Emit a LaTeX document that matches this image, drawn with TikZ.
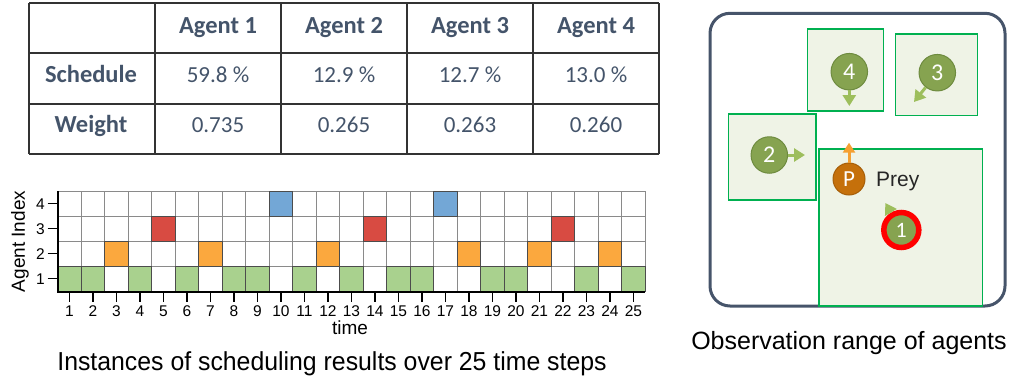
\documentclass[tikz,border=0pt]{standalone}
\usepackage{fontspec}
\setmainfont{Carlito}
\newfontfamily\hel{Liberation Sans}
\newfontfamily\helc[FakeStretch=0.955]{Liberation Sans}
\usetikzlibrary{arrows.meta}
\definecolor{tabtxt}{HTML}{44546A}
\definecolor{cgreen}{HTML}{A9D18E}
\definecolor{corange}{HTML}{FBA83E}
\definecolor{cred}{HTML}{D84B42}
\definecolor{cblue}{HTML}{73A7D6}
\definecolor{gline}{HTML}{8A8A8A}
\definecolor{boxg}{HTML}{00B050}
\definecolor{boxfill}{HTML}{EFF3E6}
\definecolor{agfill}{HTML}{86A350}
\definecolor{agdraw}{HTML}{6E8B3F}
\definecolor{agarrow}{HTML}{9DBE5C}
\definecolor{preyfill}{HTML}{C5700B}
\definecolor{preydraw}{HTML}{A65E08}
\definecolor{preyarrow}{HTML}{F5A032}
\definecolor{frame}{HTML}{46546A}
\tikzset{
  tabline/.style={draw=black!80, line width=1.6pt},
  tabhead/.style={anchor=base, text=tabtxt, font=\fontsize{24.5}{26}\selectfont\bfseries},
  tabcell/.style={anchor=base, text=tabtxt, font=\fontsize{23}{26}\selectfont},
  cellbox/.style={draw=gline, line width=0.9pt},
  axisline/.style={draw=black, line width=2pt},
  tickline/.style={draw=black, line width=1.6pt},
  ticklab/.style={font=\hel\fontsize{15.5}{16}\selectfont, inner sep=0pt},
  axlab/.style={font=\hel\fontsize{19}{20}\selectfont, inner sep=0pt},
  caption/.style={font=\hel\fontsize{20}{22}\selectfont, inner sep=0pt, anchor=base},
  obsbox/.style={draw=boxg, fill=boxfill, line width=1.6pt},
  agent/.style={circle, fill=agfill, draw=agdraw, line width=1pt, minimum size=36.5pt, inner sep=0pt, text=white, font=\fontsize{24}{24}\selectfont},
  garrow/.style={draw=agarrow, line width=3pt, -{Triangle[width=13pt,length=11pt]}},
  parrow/.style={draw=preyarrow, line width=3pt, -{Triangle[width=12pt,length=10pt]}},
}
\begin{document}
\begin{tikzpicture}[x=1pt,y=-1pt]
\useasboundingbox (0,0) rectangle (1022,391);
% ---------------- table ----------------
\foreach \x in {29,155,281,407,533,659} \draw[tabline] (\x,3) -- (\x,154);
\foreach \y in {3,53,104,154} \draw[tabline] (29,\y) -- (659,\y);
\node[tabhead] (h1) at (218,33.3) {Agent 1};
\node[tabhead] (h2) at (344,33.3) {Agent 2};
\node[tabhead] (h3) at (470,33.3) {Agent 3};
\node[tabhead] (h4) at (596,33.3) {Agent 4};
\node[tabhead] (rs) at (91,82.7) {Schedule};
\node[tabhead] (rw) at (91,132.7) {Weight};
\node[tabcell] (s1) at (218,82.7) {59.8 \%};
\node[tabcell] (s2) at (344,82.7) {12.9 \%};
\node[tabcell] (s3) at (470,82.7) {12.7 \%};
\node[tabcell] (s4) at (596,82.7) {13.0 \%};
\node[tabcell] (w1) at (218,132.7) {0.735};
\node[tabcell] (w2) at (344,132.7) {0.265};
\node[tabcell] (w3) at (470,132.7) {0.263};
\node[tabcell] (w4) at (596,132.7) {0.260};
% ---------------- schedule grid ----------------
\foreach \k in {1,...,25}
  \foreach \r in {1,...,4}
    \draw[cellbox] ({57.7+(\k-1)*23.5},{291-\r*25}) rectangle +(23.5,25);
\foreach \k/\r/\c in {1/1/cgreen,2/1/cgreen,4/1/cgreen,6/1/cgreen,8/1/cgreen,9/1/cgreen,11/1/cgreen,13/1/cgreen,15/1/cgreen,16/1/cgreen,19/1/cgreen,20/1/cgreen,23/1/cgreen,25/1/cgreen,
  3/2/corange,7/2/corange,12/2/corange,18/2/corange,21/2/corange,24/2/corange,
  5/3/cred,14/3/cred,22/3/cred,
  10/4/cblue,17/4/cblue}
    \draw[fill=\c, draw=black!70, line width=0.9pt] ({57.7+(\k-1)*23.5},{291-\r*25}) rectangle +(23.5,25);
\draw[axisline] (57.7,191) -- (57.7,292) -- (645,292);
\foreach \k in {1,...,25} {
  \draw[tickline] ({57.7+(\k-0.5)*23.5},292) -- ({57.7+(\k-0.5)*23.5},301.5);
  \node[ticklab, anchor=base] (xl\k) at ({57.7+(\k-0.5)*23.5},316.7) {\k};
}
\foreach \r in {1,...,4} {
  \draw[tickline] (47.5,{291-(\r-0.5)*25}) -- (57.7,{291-(\r-0.5)*25});
  \node[ticklab, anchor=east] (yl\r) at (45,{292-(\r-0.5)*25}) {\r};
}
\node[axlab, anchor=base] (tlab) at (350,334) {time};
\node[axlab, rotate=90] (ylab) at (20,241.5) {Agent Index};
\node[caption, font=\helc\fontsize{26}{28}\selectfont] (capl) at (332,370.7) {Instances of scheduling results over 25 time steps};
% ---------------- observation panel ----------------
\draw[draw=frame, line width=3pt, rounded corners=20pt] (710,13.3) rectangle (1005,306);
\draw[obsbox] (807.3,28.7) rectangle (883.3,111);
\draw[obsbox] (895.3,33.7) rectangle (977.3,115.3);
\draw[obsbox] (728.3,113.7) rectangle (816,200);
\draw[obsbox] (818.7,148.7) rectangle (982.3,306);
\coordinate (t4) at (849.3,106);
\coordinate (t3) at (914,102);
\coordinate (t2) at (805,155);
\coordinate (t1) at (885.3,203);
\coordinate (tp) at (849,142.7);
\node[agent] (a4) at (849.3,71.7) {4};
\node[agent] (a3) at (937.3,72.7) {3};
\node[agent] (a2) at (769.3,155) {2};
\node[agent, minimum size=35pt, draw=red, line width=5.5pt, font=\fontsize{22}{22}\selectfont] (a1) at (901.3,230) {1};
\node[circle, fill=preyfill, draw=preydraw, line width=1pt, minimum size=32pt, inner sep=0pt, text=white, font=\fontsize{23}{23}\selectfont] (p) at (849,179) {P};
\draw[garrow] (a4) -- (t4);
\draw[garrow] (a3) -- (t3);
\draw[garrow] (a2) -- (t2);
\draw[garrow] (a1) -- (t1);
\draw[parrow] (p) -- (tp);
\node[font=\hel\fontsize{21}{22}\selectfont, text=black!85, anchor=base west, inner sep=0pt] (prey) at (876,186.7) {Prey};
\node[caption, font=\hel\fontsize{25}{26}\selectfont] (capr) at (849,349.3) {Observation range of agents};
\end{tikzpicture}
\end{document}
